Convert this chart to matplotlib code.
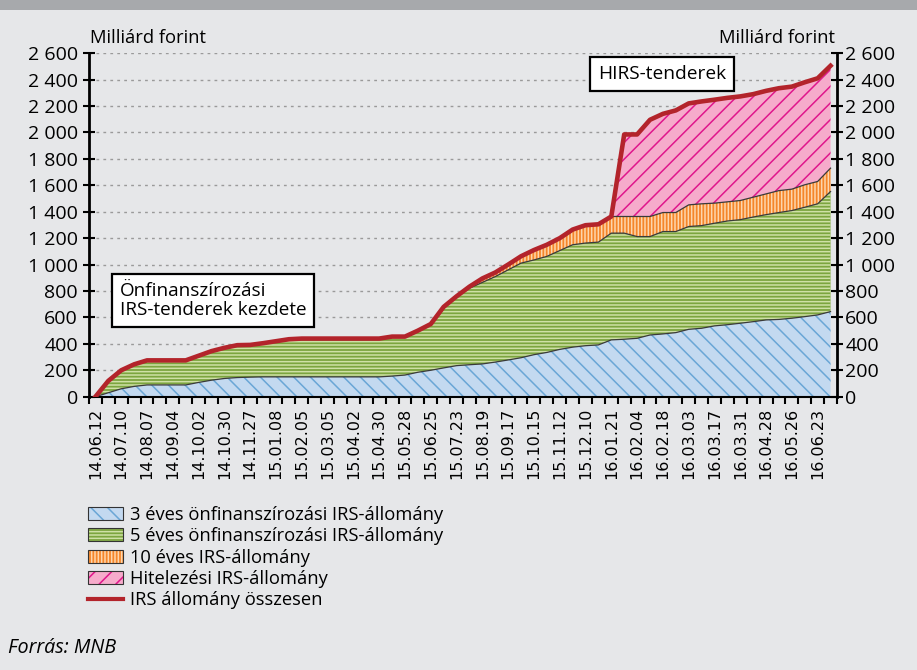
import numpy as np
import matplotlib.pyplot as plt
from matplotlib.patches import Patch, Rectangle
from matplotlib.lines import Line2D
from matplotlib.ticker import FixedLocator, FuncFormatter

plt.rcParams['font.family'] = ['Open Sans', 'DejaVu Sans']
plt.rcParams['hatch.linewidth'] = 1.1

# even-indexed dates are labelled on the axis
date_labels = ["14.06.12", "14.07.10", "14.08.07", "14.09.04", "14.10.02", "14.10.30",
               "14.11.27", "15.01.08", "15.02.05", "15.03.05", "15.04.02", "15.04.30",
               "15.05.28", "15.06.25", "15.07.23", "15.08.19", "15.09.17", "15.10.15",
               "15.11.12", "15.12.10", "16.01.21", "16.02.04", "16.02.18", "16.03.03",
               "16.03.17", "16.03.31", "16.04.28", "16.05.26", "16.06.23"]

irs_3y = [0, 30, 60, 78, 89, 89, 89, 89, 108, 125, 138, 145, 148, 150, 150, 150, 150, 150,
          150, 150, 150, 150, 150, 156, 164, 185, 200, 218, 235, 242, 248, 262, 278, 295,
          318, 335, 358, 375, 386, 392, 430, 435, 442, 467, 475, 485, 510, 518, 536, 545,
          556, 568, 581, 585, 594, 606, 619, 644]
irs_5y = [0, 90, 140, 167, 186, 186, 186, 186, 202, 220, 232, 245, 244, 255, 270, 285, 290, 290,
          290, 290, 290, 290, 290, 299, 291, 315, 350, 462, 520, 579, 617, 647, 682, 716,
          717, 727, 748, 775, 777, 778, 808, 803, 770, 745, 775, 765, 778, 777, 777, 785,
          784, 792, 797, 809, 815, 828, 841, 909]
irs_10y = [0] * 28 + [5, 12, 30, 31, 40, 52, 75, 88, 94, 115, 135, 135, 126, 126, 152, 152,
                      144, 144, 164, 165, 152, 145, 145, 150, 157, 166, 162, 170, 169, 177]
irs_hitel = [0] * 41 + [621, 621, 732, 747, 773, 768, 775, 783, 787, 788, 780, 780, 775, 776,
                        776, 781, 775]
irs_total = [0, 120, 200, 245, 275, 275, 275, 275, 310, 345, 370, 390, 392, 405, 420, 435, 440,
             440, 440, 440, 440, 440, 440, 455, 455, 500, 550, 680, 760, 833, 895, 940, 1000,
             1063, 1110, 1150, 1200, 1265, 1298, 1305, 1364, 1985, 1985, 2096, 2141, 2167,
             2220, 2235, 2248, 2262, 2273, 2290, 2315, 2335, 2347, 2380, 2410, 2505]

series_names = ["3 éves önfinanszírozási IRS-állomány", "5 éves önfinanszírozási IRS-állomány",
                "10 éves IRS-állomány", "Hitelezési IRS-állomány"]
face_colors = ["#c3d9f0", "#7ca53f", "#f5862a", "#f6abcb"]
hatch_colors = ["#6aa6d6", "#cfe0a6", "#fdd6ad", "#e0178c"]
hatches = ["\\\\", "-----", "|||||", "//"]

bg = "#e6e7e9"
fig = plt.figure(figsize=(9.17, 6.70), dpi=100, facecolor=bg)
fig.patches.append(Rectangle((0, 1 - 10 / 670), 1, 10 / 670, transform=fig.transFigure,
                             facecolor="#a7a9ac", edgecolor="none"))
ax = fig.add_axes([89 / 917, 1 - 396.7 / 670, 748 / 917, 343.5 / 670])
ax.set_facecolor(bg)

x = np.arange(len(irs_total))
layers = np.array([irs_3y, irs_5y, irs_10y, irs_hitel], dtype=float)
tops = np.cumsum(layers, axis=0)
bottom = np.zeros(len(x))
for i in range(4):
    ax.fill_between(x, bottom, tops[i], facecolor=face_colors[i], edgecolor=hatch_colors[i],
                    hatch=hatches[i], linewidth=0, zorder=2)
    bottom = tops[i]
for i in range(3):
    ax.plot(x, tops[i], color="#3a3a3a", lw=0.9, zorder=3)
ax.plot(x, irs_total, color="#b3242b", lw=3.3, zorder=4, solid_joinstyle="round")

yfmt = FuncFormatter(lambda v, p: f"{int(v):,}".replace(",", " "))
ax.set_xlim(-0.5, len(x) - 0.5)
ax.set_ylim(0, 2600)
ax.set_yticks(range(0, 2601, 200))
ax.yaxis.set_major_formatter(yfmt)
ax.yaxis.grid(True, color="#9a9a9a", linestyle=(0, (2, 3)), lw=1)
ax.set_axisbelow(True)
ax.tick_params(axis="y", direction="inout", length=8, width=1.5, labelsize=14, pad=4)

ax2 = ax.twinx()
ax2.set_ylim(0, 2600)
ax2.set_yticks(range(0, 2601, 200))
ax2.yaxis.set_major_formatter(yfmt)
ax2.tick_params(axis="y", direction="inout", length=8, width=1.5, labelsize=14, pad=2)
for s in ["left", "top", "bottom"]:
    ax2.spines[s].set_visible(False)
ax2.spines["right"].set_linewidth(2)

ax.xaxis.set_major_locator(FixedLocator(np.arange(0, len(x), 2)))
ax.set_xticklabels(date_labels, rotation=90, family="DejaVu Sans", fontsize=11.5)
ax.xaxis.set_minor_locator(FixedLocator(np.arange(len(x) + 1) - 0.5))
ax.tick_params(axis="x", which="major", length=0, pad=8)
ax.tick_params(axis="x", which="minor", length=5, width=1.5, direction="out")

ax.spines["left"].set_linewidth(2)
ax.spines["right"].set_visible(False)
ax.spines["bottom"].set_linewidth(1.5)
ax.spines["top"].set_visible(False)

fig.text(90 / 917, 1 - 38 / 670, "Milliárd forint", fontsize=13.2, va="center", ha="left")
fig.text(835 / 917, 1 - 38 / 670, "Milliárd forint", fontsize=13.2, va="center", ha="right")

box = dict(boxstyle="square,pad=0.4", facecolor="white", edgecolor="black", lw=1.6)
fig.text(120 / 917, 1 - 300.5 / 670, "Önfinanszírozási\nIRS-tenderek kezdete", fontsize=13.6,
         va="center", ha="left", bbox=box, linespacing=1.1)
fig.text(598 / 917, 1 - 74 / 670, "HIRS-tenderek", fontsize=13.8, va="center", ha="left", bbox=box)

handles = []
for i in range(4):
    handles.append((Patch(facecolor=face_colors[i], edgecolor=hatch_colors[i], hatch=hatches[i], lw=0),
                    Patch(facecolor="none", edgecolor="#333333", lw=0.8)))
handles.append(Line2D([], [], color="#b3242b", lw=3))
fig.legend(handles, series_names + ["IRS állomány összesen"], loc="upper left",
           bbox_to_anchor=(88 / 917, 1 - 506 / 670), frameon=False, fontsize=13.2,
           handlelength=1.9, handleheight=0.7, handletextpad=0.4, labelspacing=0.18,
           borderpad=0, borderaxespad=0)

fig.text(8 / 917, 1 - 648 / 670, "Forrás: MNB", fontsize=14.2, style="italic", va="center")

fig.savefig("out.png", dpi=100, facecolor=bg)
